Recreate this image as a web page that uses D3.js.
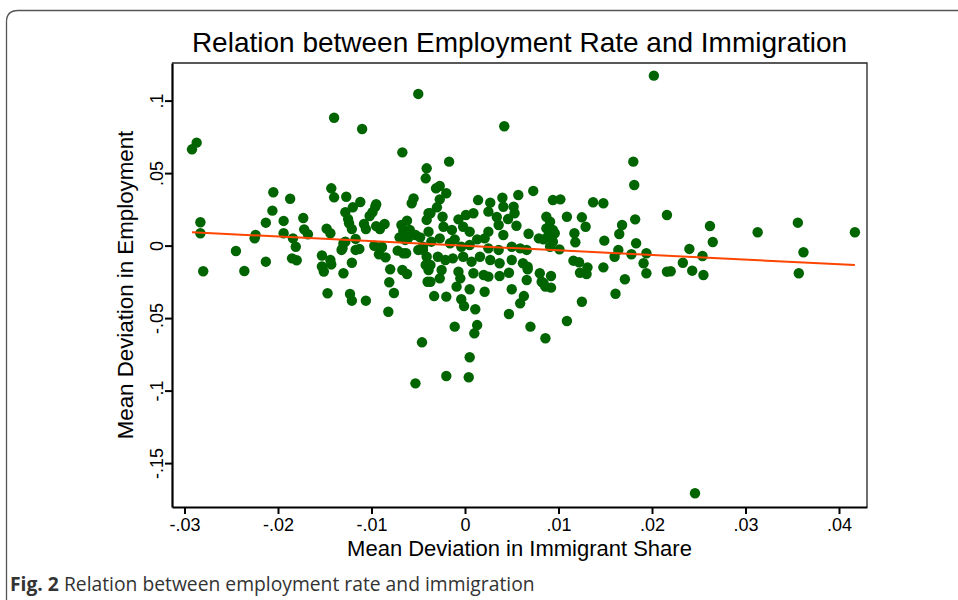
<!DOCTYPE html>
<html>
<head>
<meta charset="utf-8">
<script src="https://cdn.jsdelivr.net/npm/d3@7"></script>
<style>
  html, body { margin: 0; padding: 0; background: #fff; }
  svg { display: block; }
</style>
</head>
<body>
<svg id="chart" width="958" height="600"></svg>
<script>
// Mean deviation in immigrant share (x) and in employment (y), one entry per observation
const immigrantShare = [
  -0.0292, -0.0287, -0.0283, -0.0283, -0.0280, -0.0245, -0.0236, -0.0224, -0.0225, -0.0213,
  -0.0213, -0.0206, -0.0205, -0.0194, -0.0194, -0.0187, -0.0185, -0.0180, -0.0184, -0.0181,
  -0.0173, -0.0172, -0.0168, -0.0153, -0.0153, -0.0151, -0.0148, -0.0144, -0.0144, -0.0143,
  -0.0143, -0.0140, -0.0140, -0.0130, -0.0131, -0.0130, -0.0128, -0.0127, -0.0125, -0.0124,
  -0.0121, -0.0121, -0.0120, -0.0117, -0.0117, -0.0113, -0.0112, -0.0110, -0.0108, -0.0106,
  -0.0102, -0.0099, -0.0096, -0.0095, -0.0095, -0.0097, -0.0091, -0.0092, -0.0089, -0.0086,
  -0.0085, -0.0080, -0.0067, -0.0067, -0.0072, -0.0066, -0.0068, -0.0066, -0.0064, -0.0147,
  -0.0123, -0.0121, -0.0106, -0.0082, -0.0081, -0.0076, -0.0062, -0.0041, -0.0042, -0.0062,
  -0.0055, -0.0057, -0.0041, -0.0039, -0.0059, -0.0053, -0.0070, -0.0061, -0.0048, -0.0039,
  -0.0128, -0.0132, -0.0089, -0.0063, -0.0050, -0.0045, -0.0041, -0.0042, -0.0039, -0.0040,
  -0.0046, -0.0050, 0.0042, -0.0017, 0.0180, 0.0181, 0.0202, 0.0073, 0.0057, -0.0027,
  -0.0031, -0.0020, -0.0027, -0.0030, 0.0014, 0.0027, 0.0040, 0.0041, 0.0052, 0.0053,
  0.0025, 0.0034, 0.0036, 0.0046, 0.0055, 0.0094, 0.0102, 0.0087, 0.0109, 0.0125,
  0.0129, 0.0137, 0.0148, 0.0182, 0.0168, 0.0165, 0.0183, 0.0149, 0.0118, 0.0117,
  0.0068, 0.0079, 0.0087, 0.0094, 0.0096, -0.0037, -0.0024, -0.0023, -0.0014, -0.0007,
  0.0001, 0.0009, -0.0002, 0.0005, 0.0041, 0.0025, 0.0021, 0.0013, 0.0089, -0.0045,
  -0.0036, -0.0027, -0.0016, -0.0011, -0.0004, 0.0005, 0.0025, 0.0036, 0.0050, 0.0059,
  0.0066, -0.0037, -0.0029, -0.0021, -0.0013, -0.0002, 0.0007, 0.0016, 0.0027, 0.0037,
  0.0050, 0.0062, 0.0067, -0.0025, -0.0027, -0.0037, -0.0007, -0.0005, -0.0009, 0.0009,
  0.0020, 0.0025, 0.0037, 0.0047, 0.0066, 0.0080, 0.0082, 0.0086, -0.0033, -0.0020,
  0.0005, 0.0021, -0.0004, -0.0001, 0.0011, 0.0050, 0.0063, 0.0059, 0.0047, -0.0011,
  0.0013, 0.0010, 0.0070, 0.0086, -0.0053, -0.0020, 0.0004, 0.0005, 0.0109, 0.0125,
  0.0161, 0.0171, 0.0148, 0.0131, 0.0123, 0.0116, 0.0194, 0.0191, 0.0092, 0.0092,
  0.0067, 0.0091, 0.0216, 0.0084, 0.0094, 0.0091, 0.0101, 0.0164, 0.0160, 0.0194,
  0.0178, 0.0216, 0.0122, 0.0130, 0.0084, 0.0262, 0.0265, 0.0240, 0.0254, 0.0220,
  0.0233, 0.0243, 0.0255, 0.0313, 0.0356, 0.0362, 0.0357, 0.0417, 0.0246
];
const employment = [
  0.0664, 0.0710, 0.0161, 0.0085, -0.0177, -0.0037, -0.0175, 0.0073, 0.0050, 0.0158,
  -0.0111, 0.0241, 0.0368, 0.0170, 0.0085, 0.0323, -0.0088, -0.0101, 0.0050, -0.0008,
  0.0190, 0.0112, 0.0078, -0.0068, -0.0144, -0.0179, 0.0117, 0.0085, -0.0099, -0.0130,
  0.0395, 0.0333, 0.0882, -0.0191, -0.0019, 0.0016, 0.0230, 0.0337, 0.0183, 0.0154,
  0.0114, -0.0118, 0.0264, 0.0046, -0.0030, -0.0023, 0.0301, 0.0804, 0.0149, 0.0114,
  0.0204, 0.0230, 0.0268, 0.0285, 0.0134, -0.0001, 0.0114, -0.0060, -0.0012, 0.0149,
  -0.0081, -0.0163, 0.0643, -0.0168, -0.0035, -0.0053, 0.0142, 0.0103, 0.0039, -0.0329,
  -0.0334, -0.0380, -0.0380, -0.0456, -0.0253, -0.0327, -0.0196, 0.0533, 0.0464, 0.0172,
  0.0326, 0.0292, 0.0177, 0.0223, 0.0108, 0.0073, 0.0057, 0.0050, 0.0057, 0.0096,
  0.0027, -0.0030, -0.0008, -0.0053, -0.0030, -0.0030, -0.0077, -0.0134, -0.0168, -0.0249,
  -0.0667, 0.1046, 0.0823, 0.0579, 0.0579, 0.0418, 0.1172, 0.0377, 0.0349, 0.0411,
  0.0395, 0.0361, 0.0319, 0.0264, 0.0314, 0.0296, 0.0330, 0.0268, 0.0268, 0.0223,
  0.0234, 0.0197, 0.0142, 0.0183, 0.0137, 0.0314, 0.0319, 0.0199, 0.0199, 0.0195,
  0.0130, 0.0299, 0.0292, 0.0181, 0.0142, 0.0080, 0.0016, 0.0034, 0.0023, 0.0085,
  0.0082, 0.0050, 0.0119, 0.0108, 0.0085, 0.0223, 0.0199, 0.0130, 0.0108, 0.0181,
  0.0211, 0.0223, 0.0130, 0.0096, 0.0073, 0.0096, 0.0050, 0.0043, 0.0066, -0.0008,
  0.0027, 0.0050, 0.0016, 0.0043, -0.0008, 0.0004, -0.0019, -0.0030, -0.0008, -0.0019,
  -0.0030, -0.0134, -0.0077, -0.0099, -0.0088, -0.0077, -0.0111, -0.0077, -0.0099, -0.0122,
  -0.0099, -0.0122, -0.0146, -0.0168, -0.0226, -0.0249, -0.0180, -0.0226, -0.0283, -0.0191,
  -0.0203, -0.0214, -0.0210, -0.0187, -0.0237, -0.0191, -0.0249, -0.0283, -0.0348, -0.0352,
  -0.0301, -0.0318, -0.0370, -0.0417, -0.0439, -0.0301, -0.0348, -0.0398, -0.0472, -0.0559,
  -0.0548, -0.0605, -0.0559, -0.0639, -0.0950, -0.0899, -0.0908, -0.0770, -0.0520, -0.0387,
  -0.0332, -0.0232, -0.0150, -0.0150, -0.0187, -0.0104, -0.0191, -0.0122, -0.0290, -0.0210,
  -0.0163, 0.0165, 0.0211, 0.0043, 0.0027, -0.0008, -0.0026, -0.0030, -0.0077, -0.0053,
  -0.0060, -0.0180, -0.0115, -0.0196, -0.0260, 0.0135, 0.0025, -0.0023, -0.0072, -0.0177,
  -0.0118, -0.0173, -0.0203, 0.0092, 0.0158, -0.0046, -0.0191, 0.0092, -0.1708
];

// Linear fit of employment on immigrant share
const fitIntercept = -0.0001;
const fitSlope = -0.319;

// Axis ticks
const xTicks = [-0.03, -0.02, -0.01, 0, 0.01, 0.02, 0.03, 0.04];
const yTicks = [-0.15, -0.1, -0.05, 0, 0.05, 0.1];

const titleText = "Relation between Employment Rate and Immigration";
const xTitle = "Mean Deviation in Immigrant Share";
const yTitle = "Mean Deviation in Employment";

const points = immigrantShare.map((v, i) => ({ x: v, y: employment[i] }));

const svg = d3.select("#chart");
const plot = { left: 172, right: 867, top: 63, bottom: 507 };

const x = d3.scaleLinear().domain([-0.031337, 0.042995]).range([plot.left, plot.right]);
const y = d3.scaleLinear().domain([-0.18028, 0.12593]).range([plot.bottom, plot.top]);

// Stata-style labels: drop the leading zero
const fmt = v => v === 0 ? "0" : String(+v.toFixed(3)).replace(/^(-?)0\./, "$1.");

const font = "'Liberation Sans', Arial, Helvetica, sans-serif";

// Outer rounded frame around figure and caption
svg.append("path")
  .attr("d", "M6.5,640 L6.5,22 Q6.5,10.5 18,10.5 L1000,10.5")
  .attr("fill", "none")
  .attr("stroke", "#555")
  .attr("stroke-width", 1.3);

// Plot region outline (top and right)
svg.append("path")
  .attr("d", `M${plot.left},${plot.top} L${plot.right},${plot.top} L${plot.right},${plot.bottom}`)
  .attr("fill", "none")
  .attr("stroke", "#222")
  .attr("stroke-width", 1.3);

// Title
svg.append("text")
  .attr("x", (plot.left + plot.right) / 2)
  .attr("y", 52)
  .attr("text-anchor", "middle")
  .attr("font-family", font)
  .attr("font-size", 28)
  .attr("fill", "#000")
  .text(titleText);

// Points
svg.append("g")
  .selectAll("circle")
  .data(points)
  .join("circle")
  .attr("cx", d => x(d.x))
  .attr("cy", d => y(d.y))
  .attr("r", 5.2)
  .attr("fill", "#006400");

// Fitted line over the data range
const xExt = d3.extent(immigrantShare);
const fitPts = xExt.map(v => ({ x: v, y: fitIntercept + fitSlope * v }));
svg.append("path")
  .datum(fitPts)
  .attr("d", d3.line().x(d => x(d.x)).y(d => y(d.y)))
  .attr("fill", "none")
  .attr("stroke", "#ff4500")
  .attr("stroke-width", 2);

// X axis
const gx = svg.append("g")
  .attr("transform", `translate(0,${plot.bottom})`)
  .call(d3.axisBottom(x).tickValues(xTicks).tickFormat(fmt).tickSize(7).tickPadding(4).tickSizeOuter(0));
gx.select(".domain").attr("stroke", "#000").attr("stroke-width", 2.2);
gx.selectAll(".tick line").attr("stroke", "#000").attr("stroke-width", 2);
gx.selectAll(".tick text")
  .attr("font-family", font)
  .attr("font-size", 18)
  .attr("fill", "#000");

// Y axis with rotated labels
const gy = svg.append("g")
  .attr("transform", `translate(${plot.left},0)`)
  .call(d3.axisLeft(y).tickValues(yTicks).tickFormat(fmt).tickSize(7).tickPadding(4).tickSizeOuter(0));
gy.select(".domain").attr("stroke", "#000").attr("stroke-width", 2.2);
gy.selectAll(".tick line").attr("stroke", "#000").attr("stroke-width", 2);
gy.selectAll(".tick text")
  .attr("font-family", font)
  .attr("font-size", 18)
  .attr("fill", "#000")
  .attr("transform", "rotate(-90)")
  .attr("x", 0)
  .attr("y", -9)
  .attr("dy", 0)
  .attr("text-anchor", "middle");

// Axis titles
svg.append("text")
  .attr("x", (plot.left + plot.right) / 2)
  .attr("y", 556)
  .attr("text-anchor", "middle")
  .attr("font-family", font)
  .attr("font-size", 22)
  .attr("fill", "#000")
  .text(xTitle);

svg.append("text")
  .attr("transform", `translate(133,${(plot.top + plot.bottom) / 2}) rotate(-90)`)
  .attr("text-anchor", "middle")
  .attr("font-family", font)
  .attr("font-size", 22.3)
  .attr("fill", "#000")
  .text(yTitle);

// Caption
const cap = svg.append("text")
  .attr("x", 10)
  .attr("y", 591)
  .attr("font-family", "'Open Sans', 'Noto Sans', sans-serif")
  .attr("font-size", 19.3)
  .attr("fill", "#333");
cap.append("tspan").attr("font-weight", "bold").text("Fig. 2");
cap.append("tspan").text(" Relation between employment rate and immigration");
</script>
</body>
</html>
